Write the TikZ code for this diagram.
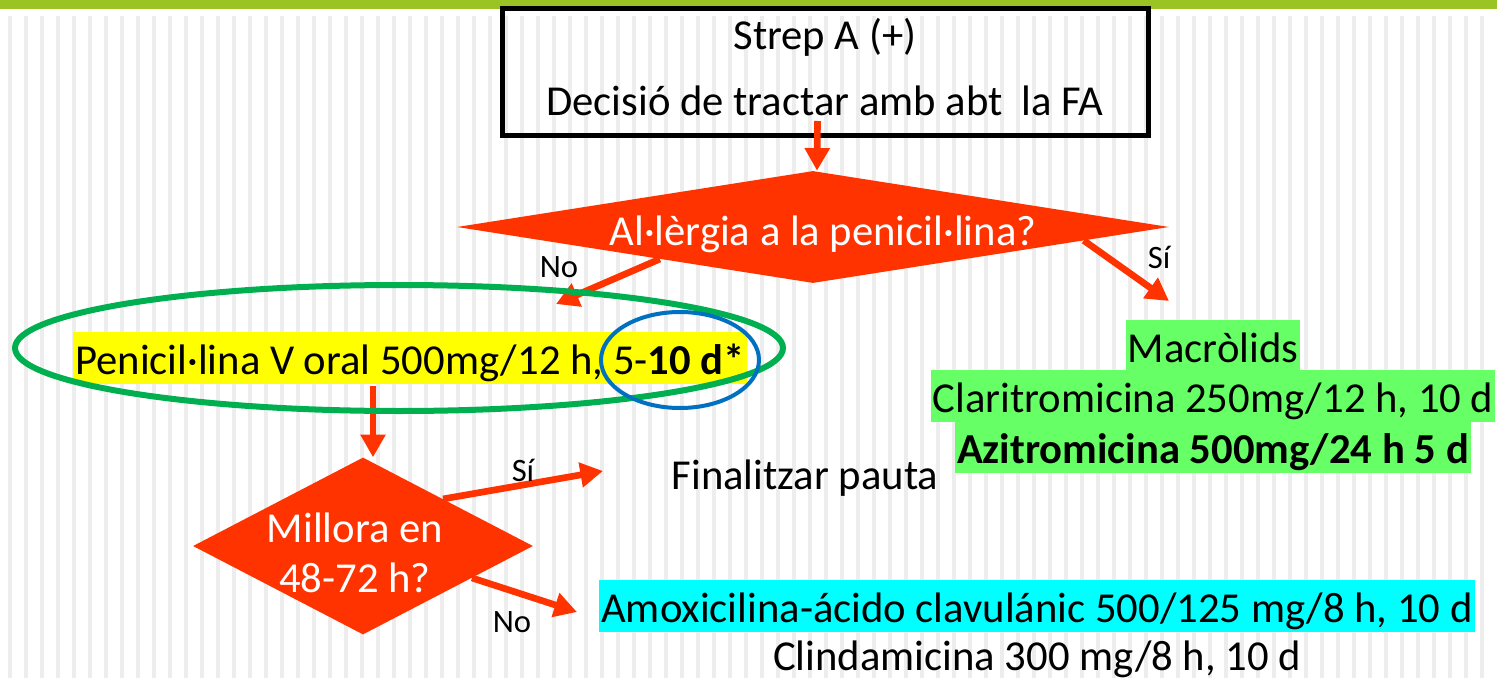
\documentclass[tikz,border=0pt]{standalone}
\usepackage{fontspec}
\setmainfont{Carlito}
\usetikzlibrary{shapes.geometric,arrows.meta,calc}
\definecolor{orred}{HTML}{FF3300}
\definecolor{barg}{RGB}{153,196,35}
\definecolor{stripeg}{HTML}{EDEDED}
\definecolor{hlyellow}{HTML}{FFFF00}
\definecolor{hlgreen}{HTML}{66FF66}
\definecolor{hlcyan}{HTML}{00FFFF}
\definecolor{ringgreen}{HTML}{00B050}
\definecolor{ringblue}{HTML}{0070C0}
\begin{document}
\begin{tikzpicture}[x=0.75pt,y=-0.75pt,
  big/.style={font=\fontsize{32pt}{38pt}\selectfont, inner sep=0pt},
  lbl/.style={font=\fontsize{24.5pt}{28pt}\selectfont, inner sep=0pt},
  hl/.style={big, inner xsep=1.5pt, inner ysep=0pt, text height=31.5pt, text depth=7.5pt},
  arr/.style={draw=orred, line width=5pt, -{Triangle[length=17pt,width=18pt]}},
  decision/.style={diamond, fill=orred, inner sep=0pt},
  stripe/.style={draw=stripeg, line width=2.4pt}]
\useasboundingbox (0,0) rectangle (1497,678);
\fill[white] (0,0) rectangle (1497,678);
\foreach \i in {0,...,92} {\draw[stripe] (10+16*\i,16) -- (10+16*\i,678);}
\fill[barg] (0,0) rectangle (1497,9);

% start box
\node[draw=black, line width=3.75pt, minimum width=484.5pt, minimum height=95.25pt, inner sep=0pt] (box) at (825.5,72) {};
\node[big, anchor=base] (t1) at (825,50) {Strep A (+)};
\node[big, anchor=base] (t2) at (825,115) {Decisió de tractar amb abt~ la FA};

% decisions
\node[decision, minimum width=534pt, minimum height=84pt] (d1) at (813,227) {};
\node[big, anchor=base, text=white] (d1t) at (823,245) {Al·lèrgia a la penicil·lina?};
\node[decision, minimum width=255pt, minimum height=132.75pt] (d2) at (363,546) {};
\node[big, anchor=base, text=white] (d2a) at (355,542) {Millora en};
\node[big, anchor=base, text=white] (d2b) at (355,592) {48-72 h?};

% treatments
\node[hl, fill=hlyellow, anchor=base] (pen) at (410,374) {Penicil·lina V oral 500mg/12 h, 5-\textbf{10 d*}};
\node[hl, fill=hlgreen, anchor=base] (mac) at (1213,362) {Macròlids};
\node[hl, fill=hlgreen, anchor=base] (cla) at (1213,412) {Claritromicina 250mg/12 h, 10 d};
\node[hl, fill=hlgreen, anchor=base] (azi) at (1213,463) {\textbf{Azitromicina 500mg/24 h 5 d}};
\node[big, anchor=base] (fin) at (805,489) {Finalitzar pauta};
\node[hl, fill=hlcyan, anchor=base] (amo) at (1037,622) {Amoxicilina-ácido clavulánic 500/125 mg/8 h, 10 d};
\node[big, anchor=base] (cli) at (1037,670) {Clindamicina 300 mg/8 h, 10 d};

% arrow end points
\coordinate (noTip) at (556,304);
\coordinate (siTip) at (1169,301);
\coordinate (siTip2) at (603,471);
\coordinate (noTip2) at (577,612);
\coordinate (penDown) at (373,386);

% connectors
\draw[arr] ([shift={(-8,-17)}]box.south) -- ([shift={(4,0)}]d1.north);
\draw[arr] ($(d1.west)!0.57!(d1.south)$) -- (noTip);
\draw[arr] ($(d1.east)!0.24!(d1.south)$) -- (siTip);
\draw[arr] (penDown) -- (penDown |- d2.north);
\draw[arr] ($(d2.north)!0.47!(d2.east)$) -- (siTip2);
\draw[arr] ($(d2.east)!0.36!(d2.south)$) -- (noTip2);

% labels
\node[lbl] (lno1) at (559,267) {No};
\node[lbl] (lsi1) at (1159,257) {Sí};
\node[lbl] (lsi2) at (523,470) {Sí};
\node[lbl] (lno2) at (512,622) {No};

% annotation rings
\node[ellipse, draw=ringgreen, line width=4.5pt, minimum width=576pt, minimum height=94.5pt, inner sep=0pt] (ring1) at (399,348) {};
\node[ellipse, draw=ringblue, line width=3pt, minimum width=118.5pt, minimum height=72pt, inner sep=0pt] (ring2) at (680,360) {};
\end{tikzpicture}
\end{document}
